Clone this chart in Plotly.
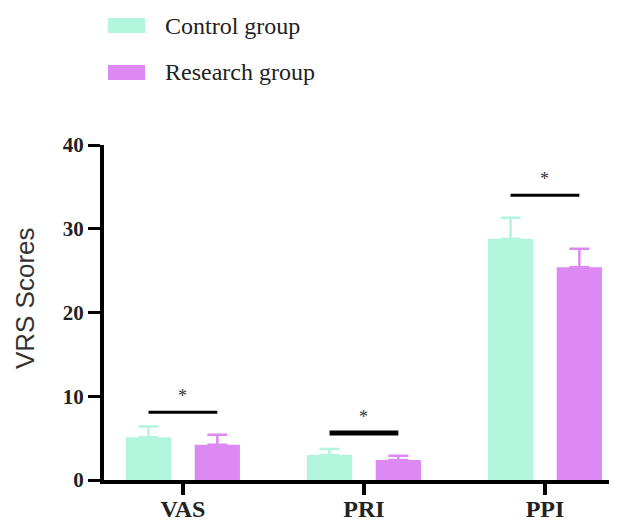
import plotly.graph_objects as go

categories = ["VAS", "PRI", "PPI"]
control_mean = [5.1, 3.0, 28.8]
control_err = [1.3, 0.7, 2.5]
research_mean = [4.2, 2.4, 25.4]
research_err = [1.2, 0.5, 2.2]
sig_heights = [8.1, 5.6, 34.0]
sig_labels = ["*", "*", "*"]
y_ticks = [0, 10, 20, 30, 40]

CONTROL = "#b2f5dc"
RESEARCH = "#dc89f4"
BAR_W = 0.25
OFF_C = -0.315
OFF_R = 0.065

xs = list(range(len(categories)))

fig = go.Figure()
fig.add_trace(go.Bar(
    x=xs, y=control_mean, width=BAR_W, offset=OFF_C, marker_color=CONTROL,
    marker_line_width=0, name="Control group", showlegend=False,
    error_y=dict(type="data", array=control_err, arrayminus=[0]*3, symmetric=False,
                 color=CONTROL, thickness=2.5, width=10)))
fig.add_trace(go.Bar(
    x=xs, y=research_mean, width=BAR_W, offset=OFF_R, marker_color=RESEARCH,
    marker_line_width=0, name="Research group", showlegend=False,
    error_y=dict(type="data", array=research_err, arrayminus=[0]*3, symmetric=False,
                 color=RESEARCH, thickness=2.5, width=10)))

line_widths = [3, 5, 3]
for i, h in enumerate(sig_heights):
    x0 = i + OFF_C + BAR_W / 2
    x1 = i + OFF_R + BAR_W / 2
    fig.add_trace(go.Scatter(x=[x0, x1], y=[h, h], mode="lines",
                             line=dict(color="black", width=line_widths[i]),
                             showlegend=False, hoverinfo="skip"))
    fig.add_annotation(x=i, y=h, text=sig_labels[i], showarrow=False, yshift=16,
                       font=dict(family="Liberation Serif", size=18, color="#333"))

# legend drawn manually
leg = [("Control group", CONTROL, 1.379), ("Research group", RESEARCH, 1.239)]
for name, col, ytop in leg:
    fig.add_shape(type="rect", xref="paper", yref="paper", x0=0.0078, x1=0.080,
                  y0=ytop - 0.045, y1=ytop, fillcolor=col, line_width=0)
    fig.add_annotation(xref="paper", yref="paper", x=0.115, y=ytop - 0.0225,
                       text=name, showarrow=False, xanchor="left", yanchor="middle",
                       font=dict(family="Liberation Serif", size=24, color="#222"))

# y-axis title
fig.add_annotation(xref="paper", yref="paper", x=-0.154, y=0.543, text="VRS Scores",
                   textangle=-90, showarrow=False, xanchor="center", yanchor="middle",
                   font=dict(family="Liberation Sans", size=26, color="#333"))

fig.update_layout(
    width=609, height=515,
    margin=dict(l=96, r=0, t=137, b=43),
    plot_bgcolor="white", paper_bgcolor="white",
    xaxis=dict(range=[-0.436, 2.398], tickvals=xs, ticktext=categories, automargin=False,
               showline=True, linewidth=4, linecolor="black", showgrid=False,
               zeroline=False, ticks="outside", ticklen=11, tickwidth=4, tickcolor="black",
               ticklabelstandoff=-7,
               tickfont=dict(family="Liberation Serif", size=24, color="#222", weight="bold")),
    yaxis=dict(range=[0, 40], tickvals=y_ticks, showline=True, linewidth=4, automargin=False,
               linecolor="black", showgrid=False, zeroline=False, ticks="outside",
               ticklen=12, tickwidth=3, tickcolor="black",
               tickfont=dict(family="Liberation Serif", size=21, color="#222", weight="bold")),
)

fig.write_html("out.html")
